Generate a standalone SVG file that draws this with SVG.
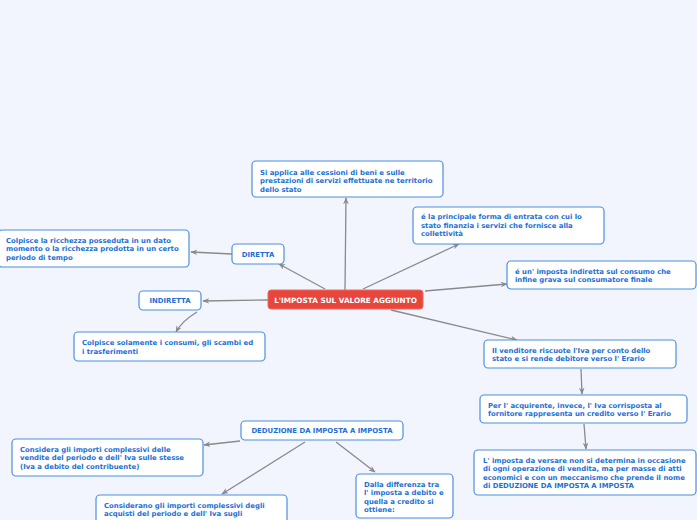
<svg xmlns="http://www.w3.org/2000/svg" width="697" height="520" viewBox="0 0 697 520">
<defs>
<style>
.bg{fill:#f2f5fe}
.box{fill:#ffffff;stroke:#4a90e2;stroke-width:1.2}
.root{fill:#e8453c;stroke:#f06a60;stroke-width:1}
.t{font-family:"DejaVu Sans",Verdana,sans-serif;font-weight:bold;font-size:6.9px;fill:#1b6fd6}
.rt{font-family:"DejaVu Sans",Verdana,sans-serif;font-weight:bold;font-size:7.3px;fill:#ffffff}
.c{fill:none;stroke:#8a8a8a;stroke-width:1.3}
</style>
<marker id="ah" viewBox="0 0 10 10" refX="9" refY="5" markerWidth="7" markerHeight="7" markerUnits="userSpaceOnUse" orient="auto">
<path d="M0,1 L10,5 L0,9 L3,5 Z" fill="#8a8a8a"/>
</marker>
</defs>
<rect class="bg" x="0" y="0" width="697" height="520"/>
<g id="connectors">
<path class="c" d="M345,290 L346,198" marker-end="url(#ah)"/>
<path class="c" d="M325,289 L279,264" marker-end="url(#ah)"/>
<path class="c" d="M363,289 L459,244" marker-end="url(#ah)"/>
<path class="c" d="M425,291 L507,284" marker-end="url(#ah)"/>
<path class="c" d="M268,300 L203,301" marker-end="url(#ah)"/>
<path class="c" d="M391,310 L517,340" marker-end="url(#ah)"/>
<path class="c" d="M232,254 L191,252" marker-end="url(#ah)"/>
<path class="c" d="M197,312 Q182,321 176,332" marker-end="url(#ah)"/>
<path class="c" d="M581,369 L582,394" marker-end="url(#ah)"/>
<path class="c" d="M584,424 L586,449" marker-end="url(#ah)"/>
<path class="c" d="M240,441 L204,445" marker-end="url(#ah)"/>
<path class="c" d="M305,442 L222,494" marker-end="url(#ah)"/>
<path class="c" d="M336,442 L375,472" marker-end="url(#ah)"/>
</g>
<g id="root">
<rect class="root" x="268" y="290" width="155" height="19" rx="3"/>
<text class="rt" x="345.5" y="302.5" text-anchor="middle">L'IMPOSTA SUL VALORE AGGIUNTO</text>
</g>
<g id="n-applica">
<rect class="box" x="252" y="161" width="191" height="36" rx="4"/>
<text class="t" x="260" y="174.5">Si applica alle cessioni di beni e sulle</text>
<text class="t" x="260" y="183">prestazioni di servizi effettuate ne territorio</text>
<text class="t" x="260" y="191.5">dello stato</text>
</g>
<g id="n-principale">
<rect class="box" x="413" y="207" width="191" height="37" rx="4"/>
<text class="t" x="421" y="219">é la principale forma di entrata con cui lo</text>
<text class="t" x="421" y="227.5">stato finanzia i servizi che fornisce alla</text>
<text class="t" x="421" y="236">collettività</text>
</g>
<g id="n-indiretta-consumo">
<rect class="box" x="507" y="261" width="189" height="28" rx="4"/>
<text class="t" x="515" y="273.5">é un' imposta indiretta sul consumo che</text>
<text class="t" x="515" y="282">infine grava sul consumatore finale</text>
</g>
<g id="n-diretta">
<rect class="box" x="232" y="244" width="52" height="20" rx="4"/>
<text class="t" x="258" y="256.5" text-anchor="middle">DIRETTA</text>
</g>
<g id="n-diretta-desc">
<rect class="box" x="-2" y="230" width="191" height="37" rx="4"/>
<text class="t" x="6" y="242.5">Colpisce la ricchezza posseduta in un dato</text>
<text class="t" x="6" y="251">momento o la ricchezza prodotta in un certo</text>
<text class="t" x="6" y="259.5">periodo di tempo</text>
</g>
<g id="n-indiretta">
<rect class="box" x="139" y="291" width="62" height="19" rx="4"/>
<text class="t" x="170" y="303" text-anchor="middle">INDIRETTA</text>
</g>
<g id="n-indiretta-desc">
<rect class="box" x="74" y="332" width="191" height="29" rx="4"/>
<text class="t" x="82" y="345">Colpisce solamente i consumi, gli scambi ed</text>
<text class="t" x="82" y="353.5">i trasferimenti</text>
</g>
<g id="n-venditore">
<rect class="box" x="484" y="340" width="192" height="28" rx="4"/>
<text class="t" x="492" y="352.5">Il venditore riscuote l'Iva per conto dello</text>
<text class="t" x="492" y="361">stato e si rende debitore verso l' Erario</text>
</g>
<g id="n-acquirente">
<rect class="box" x="480" y="395" width="207" height="28" rx="4"/>
<text class="t" x="488" y="407.5">Per l' acquirente, invece, l' Iva corrisposta al</text>
<text class="t" x="488" y="416">fornitore rappresenta un credito verso l' Erario</text>
</g>
<g id="n-versare">
<rect class="box" x="474" y="450" width="222" height="45" rx="4"/>
<text class="t" x="483" y="462.5">L' imposta da versare non si determina in occasione</text>
<text class="t" x="483" y="471">di ogni operazione di vendita, ma per masse di atti</text>
<text class="t" x="483" y="479.5">economici e con un meccanismo che prende il nome</text>
<text class="t" x="483" y="488">di DEDUZIONE DA IMPOSTA A IMPOSTA</text>
</g>
<g id="n-deduzione">
<rect class="box" x="241" y="421" width="162" height="19" rx="4"/>
<text class="t" x="322" y="433.3" text-anchor="middle">DEDUZIONE DA IMPOSTA A IMPOSTA</text>
</g>
<g id="n-considera">
<rect class="box" x="12" y="439" width="191" height="37" rx="4"/>
<text class="t" x="20" y="451.5">Considera gli importi complessivi delle</text>
<text class="t" x="20" y="460">vendite del periodo e dell' Iva sulle stesse</text>
<text class="t" x="20" y="468.5">(Iva a debito del contribuente)</text>
</g>
<g id="n-considerano">
<rect class="box" x="96" y="495" width="191" height="40" rx="4"/>
<text class="t" x="104" y="507.5">Considerano gli importi complessivi degli</text>
<text class="t" x="104" y="516">acquisti del periodo e dell' Iva sugli</text>
</g>
<g id="n-differenza">
<rect class="box" x="356" y="474" width="97" height="44" rx="4"/>
<text class="t" x="364" y="486.5">Dalla differenza tra</text>
<text class="t" x="364" y="495">l' imposta a debito e</text>
<text class="t" x="364" y="503.5">quella a credito si</text>
<text class="t" x="364" y="512">ottiene:</text>
</g>
</svg>
